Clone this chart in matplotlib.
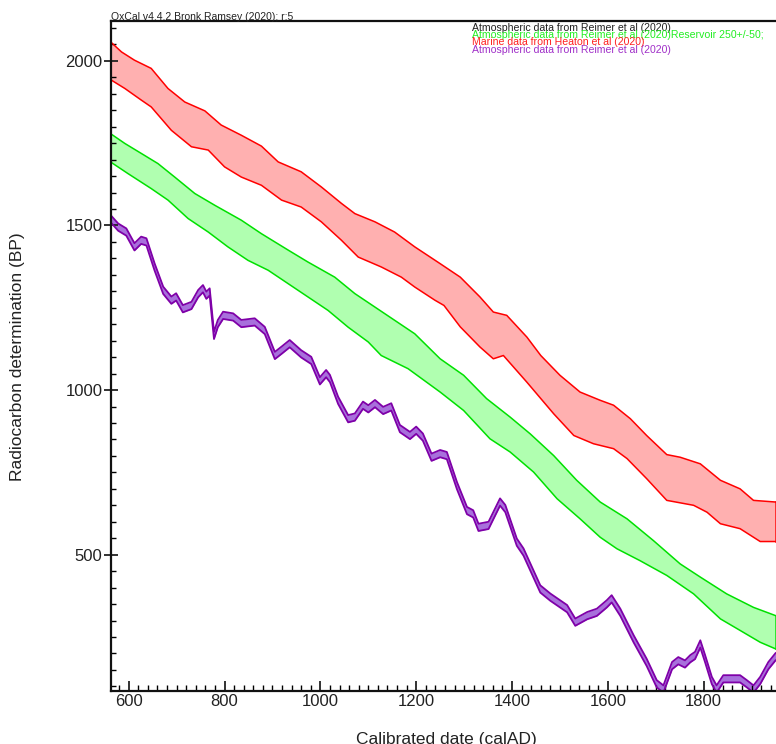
import matplotlib
matplotlib.use('Agg')
import matplotlib.pyplot as plt
import numpy as np
from matplotlib.ticker import MultipleLocator

plt.rcParams['font.family'] = ['Liberation Sans', 'DejaVu Sans']

# Marine20 band (calAD, BP)
marine_hi_x = [562, 585, 612, 647, 682, 717, 759, 793, 835, 877, 912, 960, 1002, 1044,
               1072, 1114, 1155, 1197, 1250, 1292, 1333, 1361, 1389, 1431, 1460, 1500,
               1542, 1584, 1612, 1647, 1681, 1723, 1751, 1793, 1835, 1876, 1904, 1950]
marine_hi_y = [2058, 2027, 2002, 1977, 1916, 1875, 1848, 1805, 1774, 1741, 1693, 1663, 1617, 1567,
               1536, 1511, 1480, 1435, 1384, 1343, 1283, 1237, 1227, 1161, 1105, 1045,
               994, 969, 954, 913, 862, 804, 796, 776, 726, 700, 665, 660]
marine_lo_x = [562, 592, 626, 647, 689, 731, 766, 800, 835, 877, 919, 960, 1002, 1044,
               1079, 1127, 1169, 1197, 1239, 1258, 1292, 1333, 1361, 1382, 1431, 1487,
               1529, 1570, 1612, 1640, 1681, 1723, 1779, 1807, 1835, 1876, 1918, 1950]
marine_lo_y = [1943, 1916, 1881, 1860, 1789, 1739, 1729, 1678, 1647, 1622, 1577, 1556, 1511, 1455,
               1404, 1374, 1343, 1313, 1273, 1257, 1192, 1131, 1095, 1105, 1024, 928,
               862, 837, 822, 792, 731, 665, 650, 629, 594, 579, 540, 540]

# Atmospheric + reservoir 250+/-50 band
resv_hi_x = [562, 592, 626, 661, 696, 738, 780, 835, 877, 933, 974, 1030, 1072, 1114,
             1155, 1197, 1250, 1299, 1347, 1396, 1438, 1487, 1535, 1584, 1640, 1695,
             1751, 1793, 1848, 1904, 1950]
resv_hi_y = [1779, 1749, 1719, 1688, 1647, 1597, 1561, 1516, 1475, 1425, 1389, 1343, 1293, 1252,
             1212, 1171, 1095, 1045, 974, 918, 867, 801, 726, 660, 609, 543,
             472, 432, 381, 340, 315]
resv_lo_x = [562, 598, 647, 682, 724, 766, 807, 849, 891, 933, 974, 1016, 1058, 1100,
             1127, 1183, 1250, 1299, 1354, 1396, 1445, 1494, 1542, 1584, 1619, 1667,
             1723, 1779, 1835, 1876, 1918, 1950]
resv_lo_y = [1693, 1658, 1612, 1577, 1521, 1480, 1435, 1394, 1364, 1323, 1283, 1242, 1191, 1146,
             1105, 1065, 994, 938, 852, 812, 751, 670, 609, 553, 518, 482,
             437, 381, 305, 270, 234, 214]

# IntCal20 curve (mean) and 1-sigma
atm_x = [562, 578, 595, 612, 626, 637, 654, 672, 689, 699, 713, 731, 745, 755, 762, 769,
         778, 786, 797, 818, 835, 863, 884, 905, 919, 936, 960, 981, 999, 1012, 1020,
         1037, 1058, 1072, 1089, 1100, 1114, 1131, 1148, 1166, 1187, 1200, 1214, 1232,
         1250, 1264, 1285, 1306, 1319, 1330, 1351, 1375, 1386, 1410, 1424, 1459, 1480,
         1515, 1532, 1557, 1577, 1598, 1608, 1626, 1654, 1681, 1702, 1716, 1734, 1747,
         1761, 1772, 1782, 1793, 1803, 1817, 1827, 1841, 1876, 1890, 1904, 1918, 1935, 1950]
atm_y = [1521, 1495, 1480, 1435, 1455, 1450, 1374, 1303, 1273, 1283, 1247, 1257, 1293, 1308,
         1288, 1298, 1166, 1202, 1227, 1222, 1202, 1207, 1181, 1105, 1121, 1141, 1110, 1090,
         1028, 1050, 1035, 969, 913, 918, 954, 943, 959, 938, 949, 883, 862, 878, 857, 796,
         807, 801, 710, 634, 624, 583, 589, 660, 640, 538, 508, 396, 371, 336, 295, 315,
         325, 351, 366, 325, 244, 173, 108, 92, 163, 178, 168, 184, 194, 229, 184, 118,
         92, 123, 123, 108, 92, 118, 163, 190]
atm_sig = 11

fig = plt.figure(figsize=(7.76, 7.44), dpi=100)
ax = fig.add_axes([110.5 / 776, 1 - 691 / 744, 666 / 776, 670 / 744])


def band(xh, yh, xl, yl, fill, edge, lw):
    # closed polygon: upper edge left->right, lower edge right->left
    px = list(xh) + list(xl)[::-1]
    py = list(yh) + list(yl)[::-1]
    ax.fill(px, py, facecolor=fill, edgecolor='none')
    ax.plot(xh, yh, color=edge, lw=lw)
    ax.plot(xl, yl, color=edge, lw=lw)
    ax.plot([xh[-1], xl[-1]], [yh[-1], yl[-1]], color=edge, lw=lw)


band(marine_hi_x, marine_hi_y, marine_lo_x, marine_lo_y, '#ffb0b0', '#ff0000', 1.1)
band(resv_hi_x, resv_hi_y, resv_lo_x, resv_lo_y, '#b0ffb0', '#00e000', 1.1)

atm_x = np.array(atm_x)
atm_y = np.array(atm_y)
ax.fill_between(atm_x, atm_y - atm_sig, atm_y + atm_sig, color='#a870dc', lw=0)
ax.plot(atm_x, atm_y + atm_sig, color='#7f00a8', lw=1.3)
ax.plot(atm_x, atm_y - atm_sig, color='#7f00a8', lw=1.3)

ax.set_xlim(562, 1952)
ax.set_ylim(86, 2121)

ax.xaxis.set_major_locator(MultipleLocator(200))
ax.xaxis.set_minor_locator(MultipleLocator(20))
ax.yaxis.set_major_locator(MultipleLocator(500))
ax.yaxis.set_minor_locator(MultipleLocator(50))
ax.tick_params(axis='x', which='major', direction='in', length=7, width=1.3,
               labelsize=12, pad=2, colors='#222222')
ax.tick_params(axis='x', which='minor', direction='in', length=4, width=1)
ax.tick_params(axis='y', which='major', direction='inout', length=9.5, width=1.3,
               labelsize=12, pad=1, colors='#222222')
ax.tick_params(axis='y', which='minor', direction='in', length=3.5, width=1)

for side in ('left', 'bottom', 'top'):
    ax.spines[side].set_linewidth(1.6)
    ax.spines[side].set_color('#111111')
ax.spines['right'].set_visible(False)

fig.text(111 / 776, 1 - 20 / 744, 'OxCal v4.4.2 Bronk Ramsey (2020); r:5',
         fontsize=7.5, ha='left', va='baseline', color='#222222')

legend_lines = [
    ('Atmospheric data from Reimer et al (2020)', '#222222'),
    ('Atmospheric data from Reimer et al (2020)Reservoir 250+/-50;', '#22ee22'),
    ('Marine data from Heaton et al (2020)', '#ff2020'),
    ('Atmospheric data from Reimer et al (2020)', '#a030c8'),
]
for i, (txt, col) in enumerate(legend_lines):
    fig.text(472 / 776, 1 - (31 + 7.2 * i) / 744, txt, fontsize=7.6,
             ha='left', va='baseline', color=col)

fig.text(446 / 776, 1 - 732 / 744, 'Calibrated date (calAD)', fontsize=12.5,
         ha='center', va='top', color='#222222')
fig.text(18 / 776, 1 - 357 / 744, 'Radiocarbon determination (BP)', fontsize=12.5,
         ha='center', va='center', rotation=90, color='#222222')

fig.savefig('out.png', dpi=100)
